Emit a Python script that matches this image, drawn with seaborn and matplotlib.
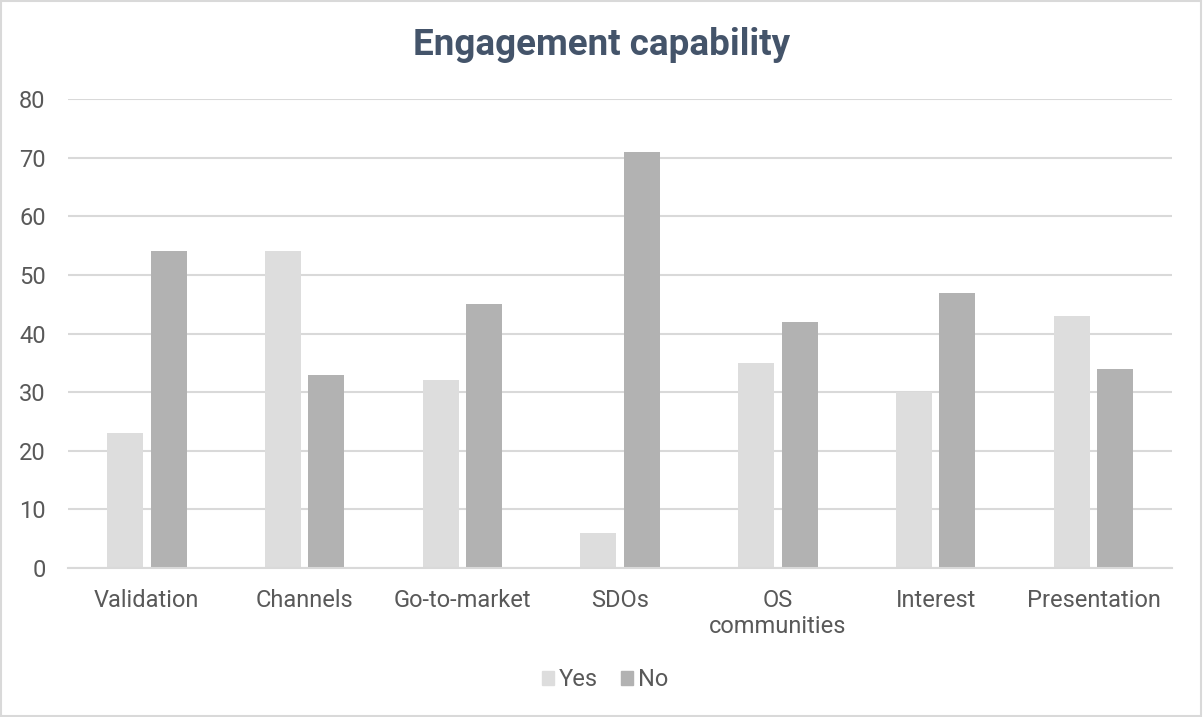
import pandas as pd
import matplotlib.pyplot as plt
import matplotlib.patches as mpatches
import seaborn as sns

categories = ["Validation", "Channels", "Go-to-market", "SDOs",
              "OS\ncommunities", "Interest", "Presentation"]
yes_values = [23, 54, 32, 6, 35, 30, 43]
no_values = [54, 33, 45, 71, 42, 47, 34]

df = pd.DataFrame({
    "category": categories * 2,
    "answer": ["Yes"] * len(categories) + ["No"] * len(categories),
    "count": yes_values + no_values,
})
palette = {"Yes": "#DDDDDD", "No": "#B2B2B2"}

sns.set_style("white")
plt.rcParams['font.family'] = ['Roboto', 'DejaVu Sans']

fig = plt.figure(figsize=(12.03, 7.17), dpi=100)
ax = fig.add_axes([0.0565, 0.2078, 0.918, 0.654])

sns.barplot(data=df, x="category", y="count", hue="answer", palette=palette,
            width=0.55, gap=0.17, order=categories, hue_order=["Yes", "No"],
            ax=ax, legend=False, saturation=1, linewidth=0)

ax.set_ylim(0, 80)
ax.set_yticks(range(0, 81, 10))
ax.set_xlim(-0.5, len(categories) - 0.5)
ax.yaxis.grid(True, color="#D9D9D9", lw=1.5)
ax.set_axisbelow(True)
for side in ["top", "left", "right"]:
    ax.spines[side].set_visible(False)
ax.spines["bottom"].set_color("#D9D9D9")
ax.spines["bottom"].set_linewidth(1.5)
ax.tick_params(axis="both", length=0, labelsize=17, labelcolor="#595959")
ax.tick_params(axis="x", pad=15)
ax.tick_params(axis="y", pad=16)
ax.set_xlabel("")
ax.set_ylabel("")

fig.text(0.5, 0.937, "Engagement capability", ha="center", va="center",
         fontsize=26.5, fontweight="bold", color="#44546A")

handles = [mpatches.Patch(color=palette[k], label=k) for k in ["Yes", "No"]]
fig.legend(handles=handles, loc="center", bbox_to_anchor=(0.503, 0.052), ncol=2,
           frameon=False, fontsize=17, handlelength=0.5, handleheight=0.5,
           handletextpad=0.2, columnspacing=1.0, labelcolor="#595959")

fig.patches.append(mpatches.Rectangle((0.001, 0.001), 0.997, 0.997, transform=fig.transFigure,
                                      fill=False, edgecolor="#D9D9D9", lw=1.5))

plt.savefig("out.png", dpi=100)
